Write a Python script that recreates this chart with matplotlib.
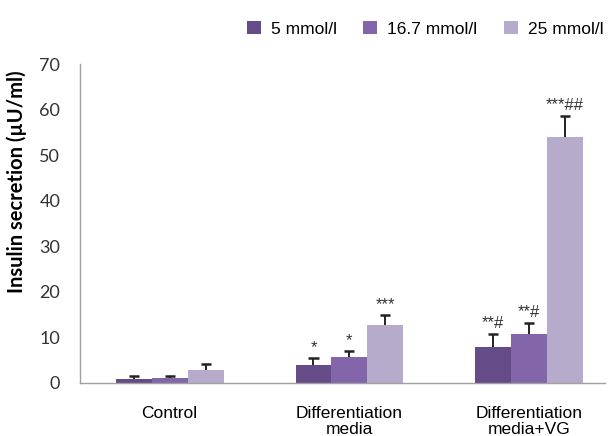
import matplotlib
matplotlib.use("Agg")
import matplotlib.pyplot as plt
import numpy as np

groups = ["Control", "Differentiation\nmedia", "Differentiation\nmedia+VG"]
series = ["5 mmol/l", "16.7 mmol/l", "25 mmol/l"]
colors = ["#654b88", "#8366a9", "#b7abcc"]

# mean values per glucose concentration, one entry per group
values = [
    [0.8, 3.9, 7.8],
    [1.0, 5.7, 10.7],
    [2.9, 12.8, 53.9],
]
errors = [
    [0.6, 1.5, 2.9],
    [0.6, 1.3, 2.5],
    [1.3, 2.1, 4.7],
]
marks = [
    ["", "*", "**#"],
    ["", "*", "**#"],
    ["", "***", "***##"],
]

fig = plt.figure(figsize=(6.09, 4.36), dpi=100)
ax = fig.add_axes([0.131, 0.122, 0.862, 0.731])

x = np.arange(len(groups))
width = 0.2
cap = 0.028
for i, (name, vals, errs, col) in enumerate(zip(series, values, errors, colors)):
    pos = x + (i - 1) * width
    vals = np.array(vals)
    errs = np.array(errs)
    ax.bar(pos, vals, width, color=col, label=name, zorder=2)
    # upper error bars only
    ax.vlines(pos, vals, vals + errs, color="#222222", linewidth=1.4, zorder=3)
    ax.hlines(vals + errs, pos - cap, pos + cap, color="#222222",
              linewidth=1.8, zorder=3)
    for p, top, m in zip(pos, vals + errs, marks[i]):
        if m:
            ax.text(p, top + 1.3, m, ha="center", va="baseline",
                    fontsize=12, color="#333333", family="Liberation Sans")

ax.set_xlim(-0.5, 2.42)
ax.set_ylim(0, 70)
ax.set_yticks(range(0, 71, 10))
ax.set_xticks(x)
ax.set_xticklabels(groups, fontsize=12.5, family="Liberation Sans",
                   linespacing=1.05)
for lab in ax.get_yticklabels():
    lab.set_family("Lato")
    lab.set_fontsize(13)
    lab.set_color("#333333")
ax.tick_params(axis="x", length=0, pad=17)
ax.tick_params(axis="y", length=0, pad=14)
ax.set_ylabel("Insulin secretion (µU/ml)", fontsize=14.5, fontweight="bold",
              family="Lato")
ax.yaxis.set_label_coords(-0.1, 0.63)

for side in ["top", "right"]:
    ax.spines[side].set_visible(False)
for side in ["left", "bottom"]:
    ax.spines[side].set_color("#a0a0a0")
    ax.spines[side].set_linewidth(1.0)

ax.legend(loc="center", bbox_to_anchor=(0.658, 1.11), ncol=3, frameon=False,
          prop={"family": "Liberation Sans", "size": 12.5},
          handlelength=0.8, handleheight=0.8, handletextpad=0.6,
          columnspacing=1.5, borderaxespad=0, borderpad=0)

fig.savefig("out.png", dpi=100)
